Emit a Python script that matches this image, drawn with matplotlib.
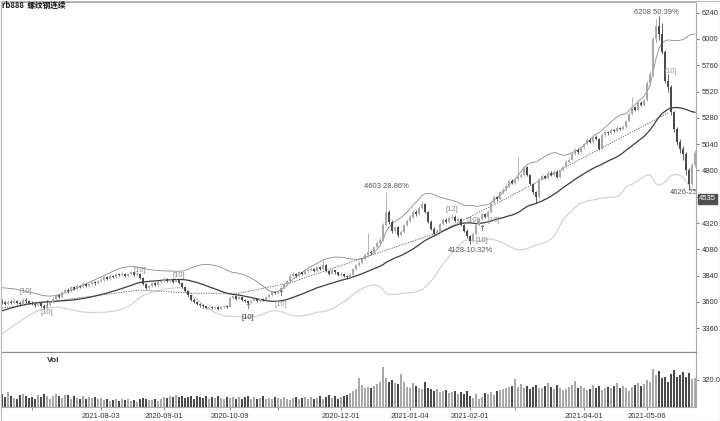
import numpy as np
import pandas as pd
import matplotlib
matplotlib.use('Agg')
import matplotlib.pyplot as plt
from matplotlib.patches import Rectangle

### trading calendar of the continuous contract (exchange holidays removed)
holidays = ['2020-06-25', '2020-06-26', '2020-10-01', '2020-10-02', '2020-10-05',
            '2020-10-06', '2020-10-07', '2020-10-08', '2021-01-01', '2021-02-11',
            '2021-02-12', '2021-02-15', '2021-02-16', '2021-02-17', '2021-04-05',
            '2021-05-03', '2021-05-04', '2021-05-05']
dates = pd.bdate_range('2020-06-15', '2021-05-28', freq='C', holidays=holidays)

### closes before the first visible bar, only used to warm up the bands
pre_closes = [3330, 3340, 3360, 3380, 3370, 3400, 3420, 3410, 3440, 3460,
              3470, 3490, 3480, 3510, 3530, 3560, 3580, 3570, 3600, 3620,
              3640, 3630, 3650, 3660, 3640, 3620, 3630, 3610, 3600]

closes = [3598, 3585, 3602, 3590, 3610, 3595, 3578, 3620, 3605, 3592,
          3585, 3570, 3590, 3565, 3548, 3575, 3600, 3630, 3660, 3645, 3690, 3710,
          3700, 3735, 3720, 3750, 3740, 3765, 3745, 3760, 3780, 3770, 3790,
          3800, 3825, 3810, 3840, 3830, 3855, 3845, 3860, 3838, 3852, 3870, 3845, 3860, 3820,
          3760, 3730, 3745, 3770, 3755, 3780, 3795,
          3810, 3790, 3805, 3785, 3800, 3775, 3740, 3700, 3660, 3620, 3600, 3585, 3570,
          3560, 3548, 3558, 3545, 3555, 3540, 3552, 3565, 3556,
          3640, 3655, 3630, 3645, 3620, 3610, 3595, 3612, 3625, 3610, 3630, 3620, 3645, 3660, 3690, 3680,
          3700, 3730, 3760, 3790, 3840, 3860, 3835, 3870, 3855, 3880, 3895, 3905, 3880, 3915, 3900, 3940,
          3880, 3860, 3890, 3870, 3850,
          3860, 3835, 3825, 3850, 3900, 3935, 3960, 3990, 4030, 4060, 4050, 4100, 4140, 4170, 4300, 4420,
          4330, 4250, 4280, 4210, 4240, 4300, 4340,
          4380, 4420, 4400, 4460, 4490, 4420, 4330, 4270, 4220, 4250, 4310, 4350, 4330, 4370, 4380, 4340,
          4360, 4300, 4250, 4200,
          4160, 4220, 4300, 4360, 4400, 4380, 4420, 4500, 4560, 4540, 4600, 4620, 4660, 4700, 4690,
          4720, 4740, 4760, 4830, 4760, 4680, 4600, 4560, 4720, 4750, 4730, 4780, 4760, 4790, 4740, 4800,
          4830, 4880, 4900, 4950, 4990, 4970, 5010,
          5040, 5080, 5060, 5110, 5090, 5000, 5120, 5150, 5140, 5170, 5160, 5190, 5180, 5200, 5250, 5320,
          5380, 5350, 5420, 5400, 5440,
          5600, 5680, 6000, 6120, 6050, 5880, 5620, 5560, 5330, 5180, 5060, 5000, 4950, 4800, 4680, 4850,
          4960]

highs = [3625, 3612, 3615, 3620, 3628, 3622, 3605, 3640, 3632, 3615,
         3605, 3598, 3605, 3600, 3578, 3585, 3612, 3645, 3675, 3672, 3702, 3728,
         3725, 3748, 3742, 3762, 3758, 3778, 3772, 3772, 3795, 3788, 3805,
         3815, 3838, 3835, 3852, 3848, 3866, 3862, 3872, 3868, 3862, 3885, 3878, 3870, 3865,
         3828, 3772, 3755, 3782, 3778, 3790, 3808,
         3825, 3818, 3815, 3812, 3810, 3808, 3782, 3748, 3710, 3668, 3632, 3610, 3595,
         3582, 3568, 3570, 3565, 3566, 3562, 3560, 3575, 3572,
         3652, 3668, 3660, 3655, 3650, 3628, 3615, 3622, 3635, 3632, 3640, 3638, 3655, 3672, 3702, 3698,
         3712, 3742, 3772, 3805, 3852, 3875, 3868, 3882, 3875, 3892, 3908, 3920, 3912, 3928, 3925, 3985,
         3945, 3892, 3900, 3895, 3875,
         3872, 3868, 3845, 3862, 3912, 3948, 3975, 4005, 4045, 4230, 4075, 4112, 4155, 4185, 4320, 4603,
         4440, 4345, 4295, 4290, 4255, 4315, 4355,
         4395, 4438, 4435, 4472, 4520, 4500, 4432, 4345, 4285, 4262, 4325, 4365, 4368, 4385, 4400, 4392,
         4372, 4368, 4312, 4262,
         4215, 4235, 4312, 4375, 4415, 4410, 4435, 4515, 4575, 4570, 4612, 4638, 4675, 4715, 4718,
         4735, 4920, 4775, 4845, 4840, 4772, 4690, 4612, 4735, 4768, 4762, 4795, 4792, 4805, 4802, 4812,
         4845, 4895, 4918, 4965, 5005, 5002, 5025,
         5055, 5095, 5092, 5125, 5120, 5098, 5132, 5165, 5162, 5185, 5182, 5205, 5198, 5215, 5265, 5335,
         5470, 5392, 5435, 5432, 5455,
         5620, 5710, 6030, 6180, 6208, 6150, 5900, 5680, 5580, 5340, 5200, 5090, 5020, 4965, 4820, 4870,
         4990]

lows = [3580, 3570, 3575, 3578, 3582, 3580, 3560, 3572, 3590, 3578,
        3570, 3558, 3562, 3552, 3532, 3540, 3568, 3592, 3622, 3632, 3638, 3680,
        3685, 3692, 3708, 3712, 3728, 3732, 3735, 3738, 3752, 3758, 3762,
        3780, 3792, 3798, 3805, 3818, 3822, 3835, 3838, 3828, 3830, 3845, 3835, 3838, 3810,
        3752, 3715, 3722, 3738, 3745, 3748, 3772,
        3785, 3782, 3780, 3775, 3778, 3768, 3732, 3690, 3650, 3608, 3588, 3570, 3555,
        3548, 3535, 3540, 3532, 3538, 3528, 3532, 3545, 3545,
        3550, 3630, 3622, 3625, 3612, 3598, 3582, 3588, 3605, 3600, 3602, 3612, 3615, 3638, 3652, 3670,
        3672, 3692, 3722, 3752, 3782, 3830, 3825, 3828, 3845, 3848, 3872, 3885, 3872, 3875, 3890, 3895,
        3870, 3845, 3852, 3860, 3838,
        3838, 3825, 3810, 3818, 3842, 3890, 3925, 3950, 3980, 4020, 4035, 4042, 4090, 4130, 4160, 4290,
        4315, 4230, 4240, 4195, 4200, 4230, 4290,
        4330, 4368, 4385, 4392, 4448, 4410, 4318, 4255, 4205, 4208, 4240, 4300, 4318, 4320, 4355, 4330,
        4330, 4290, 4238, 4185,
        4128, 4150, 4210, 4290, 4345, 4365, 4372, 4410, 4490, 4525, 4530, 4590, 4610, 4650, 4675,
        4680, 4712, 4730, 4752, 4750, 4668, 4590, 4500, 4552, 4710, 4718, 4722, 4750, 4752, 4730, 4735,
        4792, 4822, 4870, 4892, 4940, 4955, 4960,
        5000, 5030, 5048, 5052, 5080, 4985, 4992, 5110, 5128, 5132, 5150, 5152, 5170, 5172, 5192, 5240,
        5310, 5340, 5342, 5390, 5392,
        5430, 5570, 5660, 5960, 5990, 5860, 5600, 5520, 5310, 5150, 5030, 4960, 4900, 4760, 4626, 4660,
        4830]

volumes = [150, 120, 175, 130, 110, 95, 140, 160, 130, 110,
           120, 95, 140, 120, 150, 130, 100, 125, 150, 135, 110, 145,
           140, 90, 125, 110, 95, 130, 100, 115, 105, 120, 90,
           110, 85, 95, 70, 80, 95, 75, 90, 80, 95, 70, 85, 65, 90,
           110, 95, 85, 80, 100, 75, 95,
           115, 105, 125, 120, 145, 115, 130, 105, 120, 130, 100, 125, 115,
           110, 125, 95, 120, 105, 130, 110, 95, 120,
           105, 115, 100, 120, 95, 120, 130, 100, 115, 90, 105, 125, 100, 110, 95, 120,
           105, 90, 115, 100, 85, 110, 120, 95, 105, 115, 95, 120, 100, 110, 130, 95,
           115, 140, 105, 125, 100,
           120, 135, 145, 170, 190, 215, 345, 260, 230, 240, 225, 250, 275, 300, 475, 345,
           300, 320, 290, 270, 390, 300, 235,
           220, 290, 250, 230, 210, 300, 230, 215, 190, 210, 175, 185, 200, 165, 180, 195,
           160, 175, 150, 185,
           130, 110, 150, 95, 120, 165, 150, 175, 140, 190, 200, 210, 230, 240, 250,
           330, 240, 270, 230, 250, 210, 240, 260, 220, 230, 250, 290, 240, 215, 260, 230,
           200, 215, 240, 260, 310, 230, 250,
           220, 200, 210, 260, 230, 250, 205, 225, 240, 220, 250, 290, 230, 250, 220, 195,
           240, 260, 280, 250, 270,
           320, 300, 450, 380, 430, 340, 350, 300, 390, 440, 360, 380, 420, 360, 400, 330,
           340]

tick_dates = ['2020-07-01', '2020-08-03', '2020-09-01', '2020-10-09', '2020-11-02', '2020-12-01',
              '2021-01-04', '2021-02-01', '2021-03-01', '2021-04-01', '2021-05-06']
tick_labels = ['', '2021-08-03', '2020-09-01', '2020-10-09', '', '2020-12-01',
               '2021-01-04', '2021-02-01', '', '2021-04-01', '2021-05-06']
price_ticks = [3360, 3600, 3840, 4080, 4320, 4560, 4800, 5040, 5280, 5520, 5760, 6000, 6240]
price_tick_labels = ['3360', '3600', '3840', '4080', '4320', '', '4800', '5040', '5280',
                     '5520', '5760', '6000', '6240']

### zigzag swing texts
swing_dates = ['2020-12-22', '2021-02-01', '2021-05-11', '2021-05-18']
swing_prices = [4650, 4072, 6245, 4595]
swing_texts = ['4603 28.86%', '4128-10.32%', '6208 50.39%', '4626-25.48%']

### signal markers
mark_dates = ['2020-06-29', '2020-07-08', '2020-08-20', '2020-09-08', '2020-10-19', '2020-11-03',
              '2021-01-22', '2021-02-02', '2021-02-05', '2021-02-18', '2021-05-18']
mark_prices = [3700, 3500, 3883, 3846, 3454, 3573, 4440, 4348, 4165, 4348, 5700]
mark_texts = ['[10]', '[10]', '[10]', '[10]', '[10]', '[10]', '[12]', '[10]', '[16]', '[10]', '[10]']
mark_colors = ['#888888', '#888888', '#888888', '#888888', '#333333', '#999999',
               '#888888', '#888888', '#888888', '#999999', '#999999']
arrow_dates = ['2020-07-08', '2020-10-19', '2020-11-03', '2021-02-05']
arrow_prices = [3590, 3563, 3673, 4270]

### dotted trend segments
trend_dates = ['2020-06-15', '2020-08-20', '2020-09-14', '2020-10-14', '2020-11-06', '2021-01-18',
               '2021-02-23', '2021-05-17']
trend_prices = [3545, 3710, 3680, 3680, 3775, 4240, 4530, 5325]

last_label = '4535'
last_price = 4540

# ---------------------------------------------------------------
assert len(dates) == len(closes) == len(highs) == len(lows) == len(volumes)
n = len(closes)
xs = np.arange(n)
closes = np.array(closes, dtype=float)
opens = np.concatenate([[pre_closes[-1]], closes[:-1]])
highs = np.array(highs, dtype=float)
lows = np.array(lows, dtype=float)

def pos(d):
    return int(dates.searchsorted(pd.Timestamp(d)))

### Bollinger bands, 30 bars, 2 std
win = 30
allc = pd.Series(list(pre_closes) + list(closes))
mid = allc.rolling(win).mean().values[len(pre_closes):]
sd = allc.rolling(win).std(ddof=0).values[len(pre_closes):]
upper = mid + 2 * sd
lower = mid - 2 * sd

plt.rcParams['font.family'] = ['Liberation Sans', 'DejaVu Sans']

W, H = 720, 421
fig = plt.figure(figsize=(W / 100, H / 100), dpi=100)
fig.patch.set_facecolor('white')
ax = fig.add_axes([1 / W, 1 - 352 / H, 695 / W, 350 / H])
axv = fig.add_axes([1 / W, 1 - 407 / H, 695 / W, 54 / H])

xlim = (-1 / 3, 694 / 3)
up = closes >= opens
up_col = '#a9a9a9'
dn_col = '#4a4a4a'
cols = np.where(up, up_col, dn_col)

ax.vlines(xs, lows, highs, colors=cols, lw=0.6, zorder=3)
body = np.maximum(np.abs(closes - opens), 6)
ax.bar(xs, body, bottom=np.minimum(opens, closes), width=0.62, color=cols, lw=0, zorder=4)

ax.plot(xs, upper, color='#8a8a8a', lw=0.6, zorder=2)
ax.plot(xs, mid, color='#3c3c3c', lw=0.9, zorder=2)
ax.plot(xs, lower, color='#cfcfcf', lw=0.8, zorder=2)
ax.plot([pos(d) for d in trend_dates], trend_prices, color='#555555', lw=0.6,
        ls=(0, (1.5, 1.5)), zorder=2)

for d, p, t in zip(swing_dates, swing_prices, swing_texts):
    ha = 'left' if t.startswith('4626') else 'center'
    ax.text(pos(d) - (0.5 if ha == 'left' else 0), p, t, fontsize=5.5, color='#555555',
            ha=ha, va='center', clip_on=True, zorder=6)
for d, p, t, c in zip(mark_dates, mark_prices, mark_texts, mark_colors):
    ax.text(pos(d), p, t, fontsize=5.5, color=c, ha='center', va='center', zorder=6)
for d, p in zip(arrow_dates, arrow_prices):
    ax.text(pos(d), p, '\u2191', fontsize=6, color='#555555', ha='center', va='center',
            family='DejaVu Sans', zorder=6)

ax.set_xlim(*xlim)
ax.set_ylim(3600 - 50 * 9.125, 3600 + 300 * 9.125)
ax.set_xticks([])
ax.yaxis.tick_right()
ax.set_yticks(price_ticks)
ax.set_yticklabels(price_tick_labels)
ax.tick_params(axis='y', length=2.5, width=0.6, colors='#666666', labelcolor='#333333',
               labelsize=5.5, pad=1.5)
for s in ['top', 'left', 'right']:
    ax.spines[s].set_color('#aaaaaa')
    ax.spines[s].set_linewidth(0.8)
ax.spines['bottom'].set_color('#888888')
ax.spines['bottom'].set_linewidth(0.9)

ylo, yhi = ax.get_ylim()
ax.text(1.004, (last_price - ylo) / (yhi - ylo), last_label, transform=ax.transAxes,
        fontsize=5.5, color='white', ha='left', va='center',
        bbox=dict(boxstyle='square,pad=0.15', fc='#505050', ec='#505050'), zorder=7, clip_on=False)

### volume panel
axv.bar(xs, volumes, width=0.62, color=cols, lw=0)
axv.set_xlim(*xlim)
axv.set_ylim(0, 640)
axv.yaxis.tick_right()
axv.set_yticks([320])
axv.set_yticklabels(['320.0'])
axv.tick_params(axis='y', length=2.5, width=0.6, colors='#666666', labelcolor='#333333',
                labelsize=5.5, pad=1.5)
axv.set_xticks([pos(d) for d in tick_dates])
axv.set_xticklabels(tick_labels)
axv.tick_params(axis='x', length=2.5, width=0.6, colors='#777777', labelcolor='#333333',
                labelsize=5.5, pad=2)
for s in ['top', 'left', 'right', 'bottom']:
    axv.spines[s].set_color('#aaaaaa')
    axv.spines[s].set_linewidth(0.8)
axv.spines['top'].set_visible(False)
axv.text(52 / 695, 0.87, 'Vol', transform=axv.transAxes, fontsize=6, color='#333333',
         ha='center', va='center', weight='bold')

fig.text(2 / W, 1 - 5 / H, 'rb888  螺纹钢连续', fontsize=5.5, color='#111111', ha='left', va='center',
         family=['Noto Sans CJK SC', 'DejaVu Sans'], weight='bold')
fig.patches.append(Rectangle((0.5 / W, 0.5 / H), 1 - 1 / W, 1 - 1 / H, transform=fig.transFigure,
                             fill=False, ec='#bbbbbb', lw=0.8))

fig.savefig('out.png', dpi=100)
